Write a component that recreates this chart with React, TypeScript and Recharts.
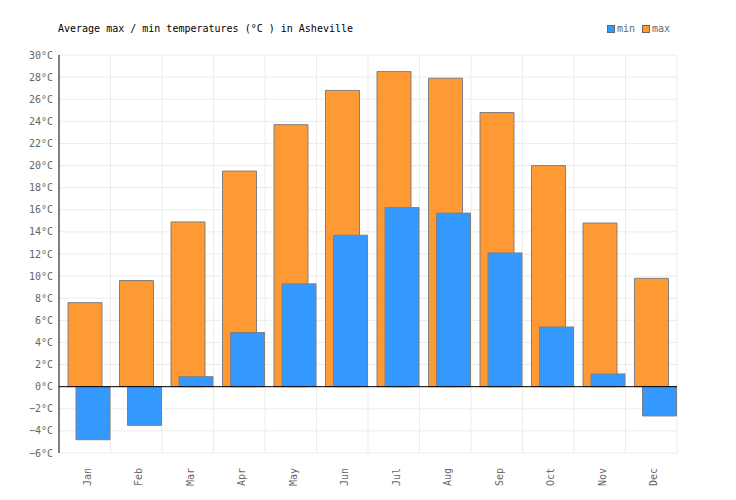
import React from 'react';
import { BarChart, Bar, XAxis, YAxis, CartesianGrid, ReferenceLine } from 'recharts';

const months = ['Jan', 'Feb', 'Mar', 'Apr', 'May', 'Jun', 'Jul', 'Aug', 'Sep', 'Oct', 'Nov', 'Dec'];
const maxTemps = [7.6, 9.6, 14.9, 19.5, 23.7, 26.8, 28.5, 27.9, 24.8, 20.0, 14.8, 9.8];
const minTemps = [-4.8, -3.5, 0.9, 4.9, 9.3, 13.7, 16.2, 15.7, 12.1, 5.4, 1.15, -2.65];
const yTicks = [-6, -4, -2, 0, 2, 4, 6, 8, 10, 12, 14, 16, 18, 20, 22, 24, 26, 28, 30];

const data = months.map((m, i) => ({ month: m, max: maxTemps[i], min: minTemps[i], ghost: 0 }));

const FONT = '"DejaVu Sans Mono", monospace';
const BLUE = '#3399ff';
const ORANGE = '#ff9933';

const fmt = (v: number) => (v < 0 ? '\u2212' + Math.abs(v) : String(v)) + '°C';

const XTick = (props: any) => {
  const { x, y, payload } = props;
  return (
    <text
      x={0}
      y={0}
      transform={`translate(${x + 6},${y + 7}) rotate(-90)`}
      textAnchor="end"
      fill="#666"
      fontSize={10}
      fontFamily={FONT}
    >
      {payload.value}
    </text>
  );
};

const vGen = ({ offset }: any) => {
  const res: number[] = [];
  for (let i = 1; i <= months.length; i++) res.push(offset.left + (i * offset.width) / months.length);
  return res;
};

export default function App() {
  return (
    <div style={{ position: 'absolute', left: 0, top: 0, width: 736, height: 500, background: '#fff' }}>
      <div style={{ position: 'absolute', left: 58, top: 23, fontFamily: FONT, fontSize: 10, color: '#000', whiteSpace: 'pre' }}>
        Average max / min temperatures (°C ) in Asheville
      </div>
      <div style={{ position: 'absolute', left: 607, top: 23, fontFamily: FONT, fontSize: 10, color: '#666', display: 'flex', alignItems: 'center', whiteSpace: 'pre' }}>
        <span style={{ width: 6, height: 6, background: BLUE, border: '1px solid #666', display: 'inline-block', marginRight: 2 }} />
        <span>min</span>
        <span style={{ width: 6, height: 6, background: ORANGE, border: '1px solid #666', display: 'inline-block', marginLeft: 7, marginRight: 2 }} />
        <span>max</span>
      </div>
      <BarChart
        width={736}
        height={500}
        data={data}
        margin={{ top: 55, right: 59, left: 0, bottom: 0 }}
        barCategoryGap={0}
        barGap={-26}
      >
        <CartesianGrid stroke="#ebebeb" verticalCoordinatesGenerator={vGen} />
        <XAxis
          dataKey="month"
          height={47}
          axisLine={false}
          tickLine={false}
          tick={<XTick />}
          interval={0}
        />
        <YAxis
          width={59}
          domain={[-6, 30]}
          ticks={yTicks}
          interval={0}
          tickFormatter={fmt}
          axisLine={{ stroke: '#000' }}
          tickLine={false}
          tickSize={0}
          tickMargin={6}
          tick={{ fill: '#666', fontSize: 10, fontFamily: FONT }}
        />
        <Bar dataKey="ghost" barSize={35} fill="none" legendType="none" isAnimationActive={false} />
        <Bar dataKey="max" barSize={34} fill={ORANGE} stroke="#808080" strokeWidth={1} isAnimationActive={false} />
        <Bar dataKey="min" barSize={34} fill={BLUE} stroke="#808080" strokeWidth={1} isAnimationActive={false} />
        <ReferenceLine y={0} stroke="#000" strokeWidth={1} />
      </BarChart>
    </div>
  );
}
